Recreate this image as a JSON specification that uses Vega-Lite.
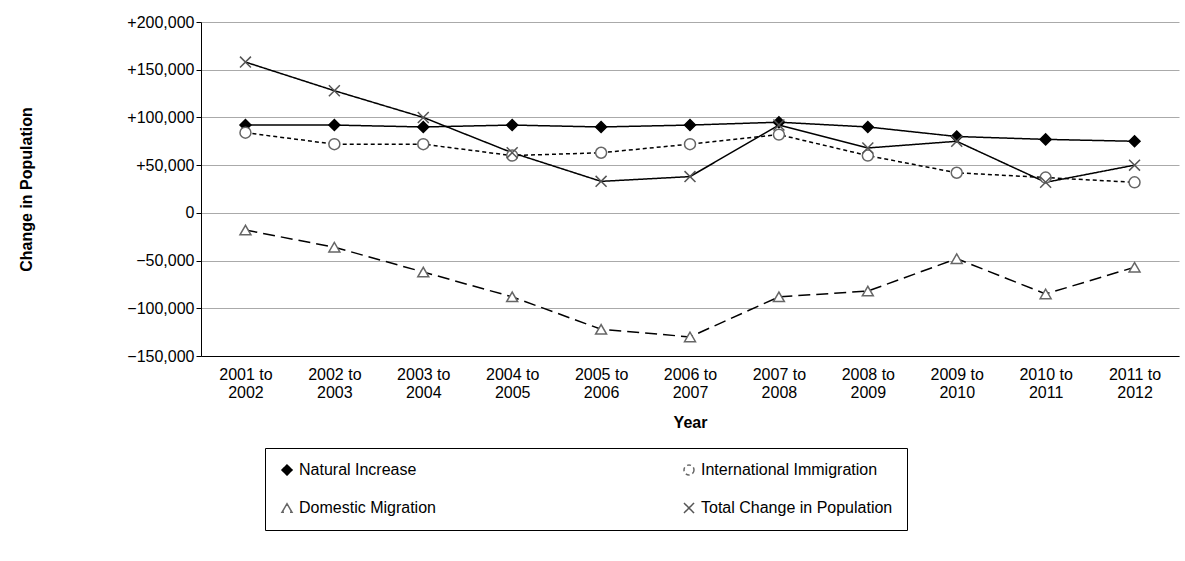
{
"$schema":"https://vega.github.io/schema/vega-lite/v6.json",
"width":978,"height":334,
"padding":{"left":18,"top":14,"right":5,"bottom":5},
"data":{"values":[
{"y":"2001 to 2002","s":"Natural Increase","v":92000},{"y":"2002 to 2003","s":"Natural Increase","v":92000},{"y":"2003 to 2004","s":"Natural Increase","v":90000},{"y":"2004 to 2005","s":"Natural Increase","v":92000},{"y":"2005 to 2006","s":"Natural Increase","v":90000},{"y":"2006 to 2007","s":"Natural Increase","v":92000},{"y":"2007 to 2008","s":"Natural Increase","v":95000},{"y":"2008 to 2009","s":"Natural Increase","v":90000},{"y":"2009 to 2010","s":"Natural Increase","v":80000},{"y":"2010 to 2011","s":"Natural Increase","v":77000},{"y":"2011 to 2012","s":"Natural Increase","v":75000},
{"y":"2001 to 2002","s":"International Immigration","v":84000},{"y":"2002 to 2003","s":"International Immigration","v":72000},{"y":"2003 to 2004","s":"International Immigration","v":72000},{"y":"2004 to 2005","s":"International Immigration","v":60000},{"y":"2005 to 2006","s":"International Immigration","v":63000},{"y":"2006 to 2007","s":"International Immigration","v":72000},{"y":"2007 to 2008","s":"International Immigration","v":82000},{"y":"2008 to 2009","s":"International Immigration","v":60000},{"y":"2009 to 2010","s":"International Immigration","v":42000},{"y":"2010 to 2011","s":"International Immigration","v":37000},{"y":"2011 to 2012","s":"International Immigration","v":32000},
{"y":"2001 to 2002","s":"Domestic Migration","v":-18000},{"y":"2002 to 2003","s":"Domestic Migration","v":-36000},{"y":"2003 to 2004","s":"Domestic Migration","v":-62000},{"y":"2004 to 2005","s":"Domestic Migration","v":-88000},{"y":"2005 to 2006","s":"Domestic Migration","v":-122000},{"y":"2006 to 2007","s":"Domestic Migration","v":-130000},{"y":"2007 to 2008","s":"Domestic Migration","v":-88000},{"y":"2008 to 2009","s":"Domestic Migration","v":-82000},{"y":"2009 to 2010","s":"Domestic Migration","v":-48000},{"y":"2010 to 2011","s":"Domestic Migration","v":-85000},{"y":"2011 to 2012","s":"Domestic Migration","v":-57000},
{"y":"2001 to 2002","s":"Total Change in Population","v":158000},{"y":"2002 to 2003","s":"Total Change in Population","v":128000},{"y":"2003 to 2004","s":"Total Change in Population","v":100000},{"y":"2004 to 2005","s":"Total Change in Population","v":63000},{"y":"2005 to 2006","s":"Total Change in Population","v":33000},{"y":"2006 to 2007","s":"Total Change in Population","v":38000},{"y":"2007 to 2008","s":"Total Change in Population","v":92000},{"y":"2008 to 2009","s":"Total Change in Population","v":68000},{"y":"2009 to 2010","s":"Total Change in Population","v":75000},{"y":"2010 to 2011","s":"Total Change in Population","v":32000},{"y":"2011 to 2012","s":"Total Change in Population","v":50000}
]},
"encoding":{
"x":{"field":"y","type":"ordinal","title":"Year","sort":null,"scale":{"paddingOuter":0.5},"axis":{"labelAngle":0,"labelExpr":"[substring(datum.label,0,7), substring(datum.label,8)]","titlePadding":14,"ticks":false,"labelPadding":10}},
"y":{"field":"v","type":"quantitative","title":"Change in Population","scale":{"domain":[-150000,200000]},"axis":{"values":[-150000,-100000,-50000,0,50000,100000,150000,200000],"labelExpr":"datum.value>0?'+'+format(datum.value,','):format(datum.value,',')","gridColor":"#aaaaaa","titlePadding":92}}
},
"layer":[
{"mark":{"type":"line","color":"black","strokeWidth":1.5},
 "encoding":{"detail":{"field":"s"},"strokeDash":{"field":"s","type":"nominal","title":null,"scale":{"domain":["Natural Increase","Domestic Migration","International Immigration","Total Change in Population"],"range":[[1,0],[12,6],[4,3],[1,0]]}}}},
{"mark":{"type":"point","size":120,"strokeWidth":1.5,"opacity":1},
 "encoding":{
  "shape":{"field":"s","type":"nominal","title":null,"scale":{"domain":["Natural Increase","Domestic Migration","International Immigration","Total Change in Population"],"range":["diamond","triangle-up","circle","M-1,-1L1,1M-1,1L1,-1"]}},
  "fill":{"field":"s","type":"nominal","title":null,"scale":{"domain":["Natural Increase","Domestic Migration","International Immigration","Total Change in Population"],"range":["black","white","white","white"]}},
  "stroke":{"field":"s","type":"nominal","title":null,"scale":{"domain":["Natural Increase","Domestic Migration","International Immigration","Total Change in Population"],"range":["black","#666","#666","#555"]}}
 }}
],
"config":{"font":"Liberation Sans","view":{"stroke":null},"axis":{"labelFontSize":16,"titleFontSize":16,"labelColor":"black","titleColor":"black","domainColor":"black","tickColor":"black"},
"legend":{"orient":"none","legendX":64,"legendY":426,"columns":2,"labelFontSize":16,"strokeColor":"black","padding":14,"columnPadding":245,"rowPadding":22,"symbolStrokeColor":"black","symbolSize":100,"labelColor":"black","labelLimit":300}}
}
